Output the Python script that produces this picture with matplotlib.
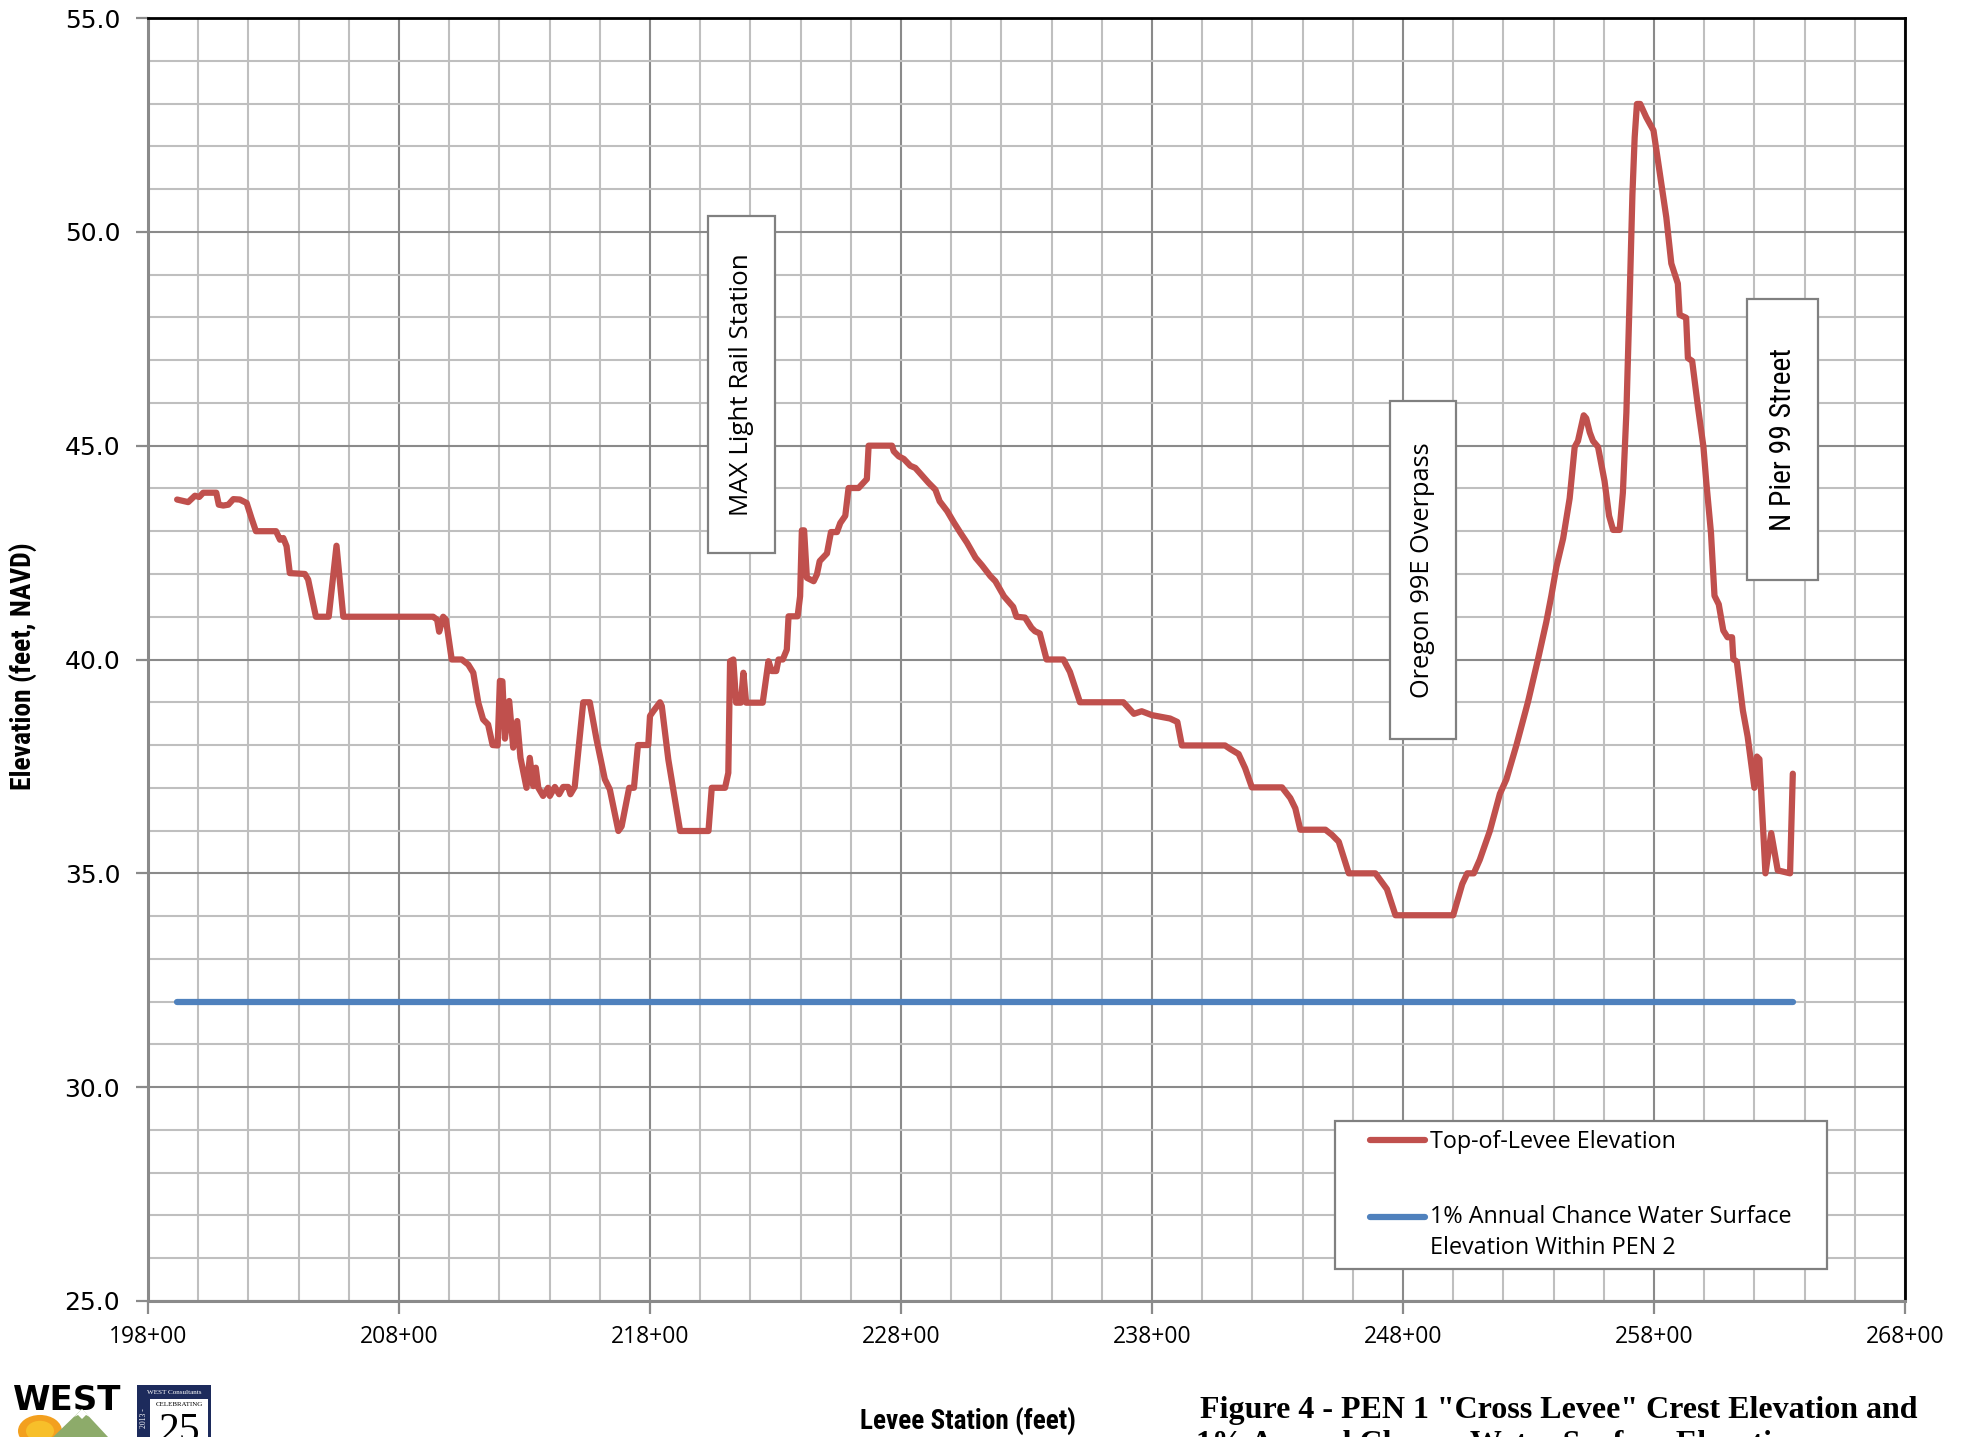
import matplotlib
matplotlib.use("Agg")
import matplotlib.pyplot as plt
from matplotlib import font_manager as fm
from matplotlib.patches import Rectangle, Polygon, Circle
from matplotlib.ticker import MultipleLocator, FixedLocator, FuncFormatter
from matplotlib.legend_handler import HandlerLine2D
from matplotlib.transforms import Affine2D

# ---------------- data (levee station in 100-ft units, elevation in ft NAVD) ----------------
station = [199.16, 199.60, 199.87, 200.04, 200.20, 200.72, 200.82, 201.00, 201.20, 201.40,
           201.66, 201.93, 202.12, 202.30, 203.10, 203.26, 203.39, 203.52, 203.65, 204.25,
           204.38, 204.69, 205.20, 205.51, 205.78, 209.36, 209.52, 209.60, 209.76, 209.87,
           210.10, 210.50, 210.76, 210.96, 211.16, 211.35, 211.55, 211.73, 211.93, 212.02,
           212.12, 212.22, 212.39, 212.55, 212.71, 212.84, 213.08, 213.21, 213.35, 213.45,
           213.55, 213.74, 213.94, 214.01, 214.21, 214.38, 214.54, 214.74, 214.83, 215.00,
           215.20, 215.34, 215.60, 215.87, 216.20, 216.40, 216.74, 216.87, 217.17, 217.36,
           217.52, 217.93, 218.00, 218.13, 218.40, 218.47, 218.73, 219.20, 220.33, 220.46,
           220.99, 221.12, 221.19, 221.32, 221.43, 221.62, 221.72, 221.83, 222.49, 222.72,
           222.85, 223.03, 223.12, 223.29, 223.45, 223.52, 223.88, 223.98, 224.05, 224.14,
           224.25, 224.52, 224.65, 224.76, 225.05, 225.21, 225.45, 225.58, 225.78, 225.91,
           226.31, 226.64, 226.71, 227.64, 227.71, 227.91, 228.11, 228.37, 228.57, 228.84,
           229.10, 229.37, 229.54, 229.84, 230.10, 230.37, 230.63, 230.97, 231.23, 231.56,
           231.76, 232.10, 232.47, 232.60, 232.94, 233.20, 233.34, 233.53, 233.80, 234.47,
           234.73, 235.13, 236.86, 237.06, 237.28, 237.59, 237.99, 238.45, 238.72, 239.01,
           239.19, 240.91, 241.11, 241.45, 241.71, 241.98, 243.18, 243.51, 243.71, 243.91,
           244.91, 245.17, 245.44, 245.84, 246.90, 247.10, 247.36, 247.70, 250.00, 250.36,
           250.56, 250.82, 251.06, 251.46, 251.86, 252.12, 252.52, 252.98, 253.38, 253.71,
           253.91, 254.11, 254.38, 254.64, 254.84, 254.97, 255.20, 255.30, 255.44, 255.57,
           255.77, 255.90, 256.03, 256.21, 256.37, 256.63, 256.76, 256.90, 257.03, 257.14,
           257.23, 257.32, 257.45, 257.69, 257.98, 258.22, 258.49, 258.69, 258.95, 259.02,
           259.28, 259.35, 259.52, 259.75, 259.97, 260.08, 260.27, 260.41, 260.58, 260.76,
           260.93, 261.11, 261.16, 261.30, 261.54, 261.73, 262.00, 262.10, 262.20, 262.44,
           262.67, 262.93, 263.42, 263.53]
elevation = [43.74, 43.68, 43.83, 43.80, 43.90, 43.90, 43.62, 43.60, 43.62, 43.75,
             43.74, 43.66, 43.31, 43.00, 43.00, 42.80, 42.84, 42.65, 42.02, 42.00,
             41.87, 41.00, 41.00, 42.66, 41.00, 41.00, 40.93, 40.65, 41.00, 40.93,
             40.00, 40.00, 39.88, 39.69, 38.99, 38.60, 38.48, 38.00, 37.99, 39.50,
             39.49, 38.15, 39.03, 37.94, 38.56, 37.70, 37.00, 37.70, 37.04, 37.47,
             37.00, 36.81, 37.00, 36.81, 37.02, 36.85, 37.02, 37.02, 36.85, 37.02,
             38.20, 39.00, 39.00, 38.13, 37.20, 36.96, 35.99, 36.10, 37.00, 37.00,
             38.00, 38.00, 38.68, 38.79, 39.00, 38.91, 37.66, 35.99, 35.99, 37.00,
             37.00, 37.35, 39.96, 40.00, 38.99, 38.99, 39.69, 38.99, 38.99, 39.96,
             39.73, 39.73, 40.00, 40.00, 40.23, 41.01, 41.01, 41.48, 43.02, 43.02,
             41.91, 41.83, 41.99, 42.30, 42.48, 42.98, 42.98, 43.19, 43.36, 44.01,
             44.01, 44.22, 45.00, 45.00, 44.87, 44.75, 44.69, 44.53, 44.48, 44.30,
             44.13, 43.97, 43.70, 43.47, 43.21, 42.96, 42.73, 42.38, 42.20, 41.95,
             41.83, 41.48, 41.23, 41.00, 40.98, 40.74, 40.66, 40.61, 40.00, 40.00,
             39.71, 39.00, 39.00, 38.87, 38.73, 38.79, 38.70, 38.65, 38.62, 38.54,
             37.99, 37.99, 37.91, 37.79, 37.46, 37.01, 37.01, 36.76, 36.52, 36.02,
             36.02, 35.90, 35.74, 35.00, 35.00, 34.84, 34.63, 34.02, 34.02, 34.75,
             35.00, 35.00, 35.32, 35.99, 36.86, 37.20, 38.00, 39.01, 40.01, 40.88,
             41.49, 42.16, 42.83, 43.77, 44.97, 45.11, 45.71, 45.64, 45.31, 45.11,
             44.97, 44.57, 44.17, 43.36, 43.03, 43.03, 43.90, 45.78, 48.46, 50.87,
             52.21, 52.99, 52.99, 52.68, 52.37, 51.41, 50.34, 49.26, 48.79, 48.06,
             47.99, 47.05, 46.98, 45.91, 44.97, 44.17, 42.96, 41.49, 41.29, 40.68,
             40.52, 40.52, 40.01, 39.95, 38.81, 38.20, 37.00, 37.73, 37.67, 35.00,
             35.94, 35.07, 35.00, 37.33]

wse_station = [199.16, 263.53]
wse_elevation = [32.0, 32.0]

x_ticks = [198, 208, 218, 228, 238, 248, 258, 268]
y_ticks = [25, 30, 35, 40, 45, 50, 55]

series_labels = ["Top-of-Levee Elevation",
                 "1% Annual Chance Water Surface\nElevation Within PEN 2"]

# landmark annotation boxes: (text, station_left, station_right, elev_bottom, elev_top)
landmarks = [("MAX Light Rail Station", 220.31, 222.98, 42.50, 50.37),
             ("Oregon 99E Overpass", 247.48, 250.10, 38.15, 46.04),
             ("N Pier 99 Street", 261.71, 264.53, 41.85, 48.42)]

x_label = "Levee Station (feet)"
y_label = "Elevation (feet, NAVD)"
title_lines = ['Figure 4 - PEN 1 "Cross Levee" Crest Elevation and',
               '1% Annual Chance Water Surface Elevation']

# ---------------- fonts ----------------
available = {f.name for f in fm.fontManager.ttflist}


def pick(*names):
    for n in names:
        if n in available:
            return n
    return "DejaVu Sans"


SANS = pick("Open Sans", "Carlito", "Lato")
NARROW = pick("Liberation Sans Narrow", "Roboto Condensed", "Roboto")
SERIF = pick("Liberation Serif", "DejaVu Serif")

W, H = 1971, 1437
fig = plt.figure(figsize=(W / 100, H / 100), dpi=100)
fig.patch.set_facecolor("white")


def fx(px):
    return px / W


def fy(py):
    return 1 - py / H


L, R, T, B = 148, 1905, 18, 1301
ax = fig.add_axes([fx(L), fy(B), fx(R) - fx(L), fy(T) - fy(B)])

ax.set_xlim(198, 268)
ax.set_ylim(25, 55)
ax.xaxis.set_major_locator(FixedLocator(x_ticks))
ax.xaxis.set_minor_locator(MultipleLocator(2))
ax.yaxis.set_major_locator(FixedLocator(y_ticks))
ax.yaxis.set_minor_locator(MultipleLocator(1))
ax.xaxis.set_major_formatter(FuncFormatter(lambda v, p: f"{int(round(v))}+00"))
ax.yaxis.set_major_formatter(FuncFormatter(lambda v, p: f"{v:.1f}"))

ax.set_axisbelow(True)
ax.grid(which="minor", color="#bfbfbf", lw=1.5)
ax.grid(which="major", color="#8a8a8a", lw=1.5)

ax.tick_params(which="major", direction="out", length=9, width=1.6, color="#8a8a8a")
ax.tick_params(which="minor", length=0)
ax.tick_params(axis="x", pad=8, labelsize=16.5)
ax.tick_params(axis="y", pad=11, labelsize=18)
for lab in ax.get_xticklabels():
    lab.set_family(SANS)
for lab in ax.get_yticklabels():
    lab.set_family("DejaVu Sans")

for s in ("left", "bottom"):
    ax.spines[s].set_color("#8a8a8a")
    ax.spines[s].set_linewidth(2.2)
for s in ("top", "right"):
    ax.spines[s].set_color("black")
    ax.spines[s].set_linewidth(2.0)

toe_line, = ax.plot(station, elevation, color="#c0504d", lw=4.5, solid_joinstyle="round",
                    solid_capstyle="round", label=series_labels[0], zorder=3)
wse_line, = ax.plot(wse_station, wse_elevation, color="#4f81bd", lw=4.5,
                    solid_capstyle="round", label=series_labels[1], zorder=3)

landmark_texts = []
for text, x0, x1, y0, y1 in landmarks:
    ax.add_patch(Rectangle((x0, y0), x1 - x0, y1 - y0, facecolor="white",
                           edgecolor="#808080", lw=1.6, zorder=4))
    fam = NARROW if text.startswith("N Pier") else SANS
    t = ax.text((x0 + x1) / 2, (y0 + y1) / 2, text, rotation=90, ha="center", va="center",
                fontsize=17.5, family=fam, color="black", zorder=5)
    landmark_texts.append(t)


class FirstLineHandler(HandlerLine2D):
    """Line handle aligned with the first line of a two-line label."""

    def __init__(self, shift, **kw):
        super().__init__(**kw)
        self.shift = shift

    def create_artists(self, legend, orig_handle, xdescent, ydescent, width, height,
                       fontsize, trans):
        arts = super().create_artists(legend, orig_handle, xdescent, ydescent, width,
                                      height, fontsize, trans)
        for a in arts:
            a.set_transform(Affine2D().translate(0, self.shift) + trans)
        return arts


LEG_FS = 16.8
LEG_LS = 1.38

# legend frame + legend
frame = Rectangle((fx(1335), fy(1269)), fx(1827) - fx(1335), fy(1121) - fy(1269),
                  transform=fig.transFigure, facecolor="white", edgecolor="#808080",
                  lw=1.6, zorder=6, clip_on=False)
ax.add_patch(frame)
leg = ax.legend(loc="upper left", bbox_to_anchor=(fx(1370), fy(1130)),
                bbox_transform=fig.transFigure, frameon=False, borderpad=0,
                borderaxespad=0, handlelength=2.36, handletextpad=0.2,
                labelspacing=2.2, prop={"family": SANS, "size": LEG_FS},
                handler_map={wse_line: FirstLineHandler(LEG_FS * LEG_LS / 2)})
leg.set_zorder(7)
for t in leg.get_texts():
    t.set_linespacing(LEG_LS)
for h in leg.get_lines():
    h.set_linewidth(4.5)
    h.set_solid_capstyle("round")

# axis labels
ax.set_xlabel(x_label, family=NARROW, fontweight="bold", fontsize=18)
ax.xaxis.label.set_va("center")
ax.xaxis.set_label_coords((968 - L) / (R - L), (B - 1422) / (B - T))
ax.set_ylabel(y_label, family=NARROW, fontweight="bold", fontsize=18)
ax.yaxis.label.set_va("center")
ax.yaxis.set_label_coords((23 - L) / (R - L), (B - 666) / (B - T))

# figure caption (cut by the page bottom as in the original)
cap1 = fig.text(fx(1200), fy(1418), title_lines[0], ha="left", va="baseline",
                family=SERIF, fontweight="bold", fontsize=23)
cap2 = fig.text(fx(1196), fy(1452), title_lines[1], ha="left", va="baseline",
                family=SERIF, fontweight="bold", fontsize=23)

# company logo
west = fig.text(fx(13), fy(1410), "WEST", ha="left", va="baseline", family="DejaVu Sans",
                fontweight="heavy", fontsize=22, color="black")
fig.patches.append(Circle((fx(40), fy(1431)), 22 / W, transform=fig.transFigure,
                          facecolor="#f3a01f", edgecolor="none", zorder=3))
fig.patches.append(Circle((fx(40), fy(1431)), 14 / W, transform=fig.transFigure,
                          facecolor="#f7bf2a", edgecolor="none", zorder=3))
fig.patches.append(Polygon([(fx(53), fy(1437)), (fx(82), fy(1409)), (fx(108), fy(1437))],
                           closed=True, transform=fig.transFigure, facecolor="#8dab6a",
                           edgecolor="none", zorder=4))
fig.patches.append(Polygon([(fx(74), fy(1417)), (fx(82), fy(1409)), (fx(90), fy(1417)),
                            (fx(86), fy(1415)), (fx(82), fy(1419)), (fx(78), fy(1415))],
                           closed=True, transform=fig.transFigure, facecolor="white",
                           edgecolor="none", zorder=5))
fig.patches.append(Rectangle((fx(137), 0), fx(211) - fx(137), fy(1385), transform=fig.transFigure,
                             facecolor="#1d2b5c", edgecolor="none", zorder=3))
fig.patches.append(Rectangle((fx(150), 0), fx(208) - fx(150), fy(1399), transform=fig.transFigure,
                             facecolor="white", edgecolor="none", zorder=4))
b1 = fig.text(fx(174), fy(1392), "WEST Consultants", ha="center", va="center", family=SERIF,
              fontsize=6, color="white", zorder=6)
b2 = fig.text(fx(143.5), fy(1418), "2013 -", ha="center", va="center", family=SERIF,
              fontsize=5.5, color="white", rotation=90, zorder=6)
b3 = fig.text(fx(179), fy(1405), "CELEBRATING", ha="center", va="center", family=SERIF,
              fontsize=5, color="black", zorder=6)
b4 = fig.text(fx(179), fy(1412), "25", ha="center", va="top", family=SERIF,
              fontsize=30, color="black", zorder=6)

# fit text sizes to the measured extents of the original
fig.canvas.draw()
rend = fig.canvas.get_renderer()


def fit(t, target, use_height=False):
    bb = t.get_window_extent(rend)
    cur = bb.height if use_height else bb.width
    if cur > 0:
        t.set_fontsize(t.get_fontsize() * target / cur)


fit(cap1, 720)
cap2.set_fontsize(cap1.get_fontsize())
fit(ax.xaxis.label, 216)
fit(ax.yaxis.label, 248, use_height=True)
fit(landmark_texts[0], 262, use_height=True)
fit(landmark_texts[1], 256, use_height=True)
fit(landmark_texts[2], 183, use_height=True)
fit(west, 108)
fit(b1, 56)
fit(b3, 48)

fig.savefig("out.png", dpi=100, facecolor="white")
